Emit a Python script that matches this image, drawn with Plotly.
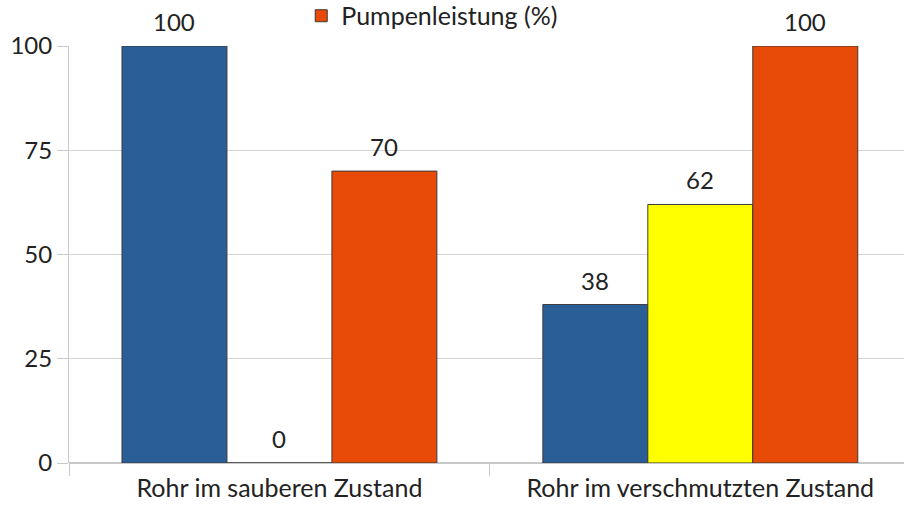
import plotly.graph_objects as go

categories = ["Rohr im sauberen Zustand", "Rohr im verschmutzten Zustand"]
series_names = ["Förderstrom (%)", "Druckverlust (%)", "Pumpenleistung (%)"]
values_blue = [100, 38]
values_yellow = [0, 62]
values_orange = [70, 100]
y_ticks = [0, 25, 50, 75, 100]

colors = ["#2a5e96", "#ffff00", "#e84a08"]
FONT = "Lato"
TXT = "#222222"
BAR_W = 0.2494

fig = go.Figure()
all_vals = [values_blue, values_yellow, values_orange]
for k, (name, vals, col) in enumerate(zip(series_names, all_vals, colors)):
    fig.add_trace(go.Bar(
        x=categories, y=vals, name=name,
        marker=dict(color=col, line=dict(color="#3a3a3a", width=1)),
        width=BAR_W, offset=(k - 1.5) * BAR_W,
        showlegend=(k == 2),
    ))
    for i, v in enumerate(vals):
        fig.add_annotation(
            x=i + (k - 1) * BAR_W, y=v, xref="x", yref="y",
            text=str(v), showarrow=False, yanchor="bottom", yshift=8,
            font=dict(family=FONT, size=24, color=TXT),
        )

fig.update_layout(
    width=904, height=507,
    margin=dict(l=69, r=0, t=46, b=44, autoexpand=False),
    paper_bgcolor="white", plot_bgcolor="white",
    barmode="overlay",
    font=dict(family=FONT, size=24, color=TXT),
    legend=dict(orientation="h", x=0.435, xanchor="center", y=1.072, yanchor="middle",
                bgcolor="rgba(0,0,0,0)", font=dict(family=FONT, size=25, color=TXT),
                itemwidth=30),
    xaxis=dict(range=[-0.5, 1.484], ticks="outside", tickson="boundaries", ticklen=12,
               tickcolor="#c8c8c8", showgrid=False, showline=False, automargin=False,
               ticklabelstandoff=8,
               tickfont=dict(family=FONT, size=25, color=TXT)),
    yaxis=dict(range=[0, 100], tickvals=y_ticks, ticks="outside", ticklen=11,
               tickcolor="#c8c8c8", gridcolor="#d4d4d4", showline=True, linecolor="#c8c8c8",
               zeroline=True, zerolinecolor="#c8c8c8", automargin=False,
               tickfont=dict(family=FONT, size=24, color=TXT)),
)

fig.write_html("out.html", config={"displayModeBar": False},
               post_script="document.body.style.margin='0';")
